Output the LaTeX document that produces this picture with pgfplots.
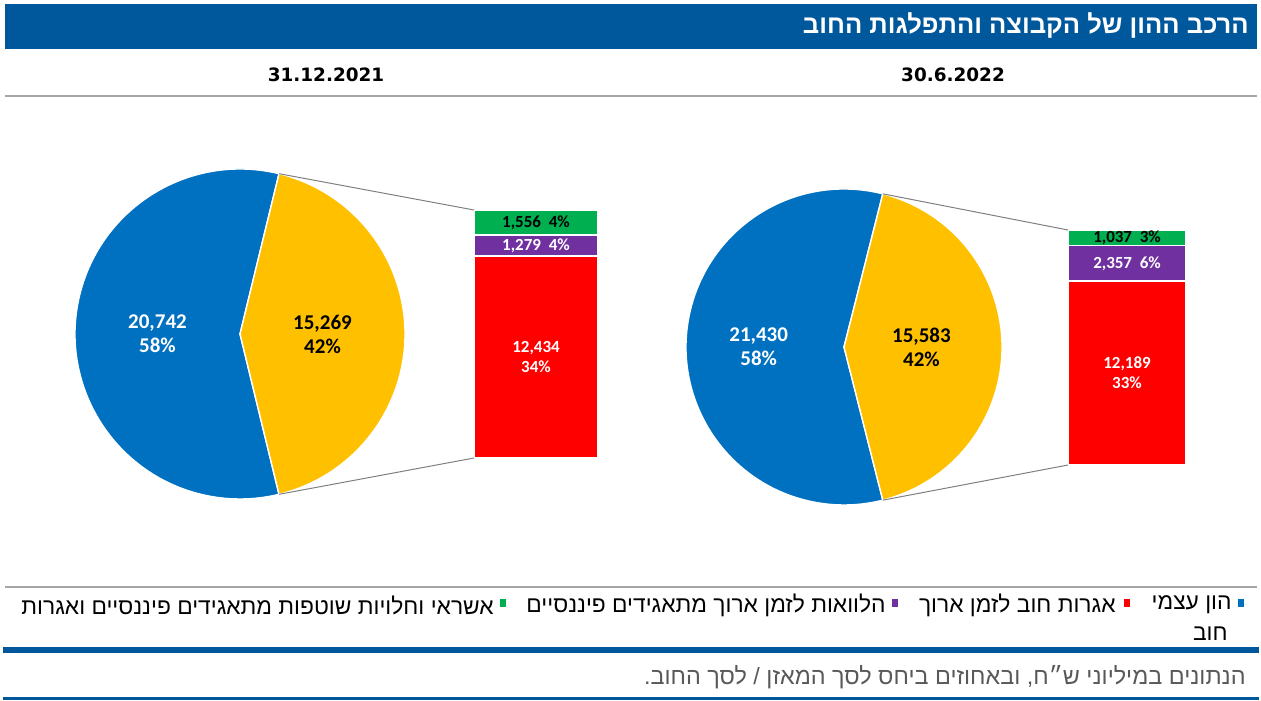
\documentclass[border=0pt]{standalone}
\usepackage{pgfplots}
\pgfplotsset{compat=1.18}
\usepackage{fontspec}
\setmainfont{Liberation Sans}
\newfontfamily\hebfont[Script=Hebrew]{Liberation Sans}
\newfontfamily\calfont{Carlito}
\newfontfamily\dvfont{DejaVu Sans}
\TeXXeTstate=1

\definecolor{titleblue}{RGB}{0,88,156}
\definecolor{cblue}{RGB}{0,112,192}
\definecolor{cyellow}{RGB}{255,192,0}
\definecolor{cred}{RGB}{255,0,0}
\definecolor{cpurple}{RGB}{112,48,160}
\definecolor{cgreen}{RGB}{0,176,80}
\definecolor{notegray}{RGB}{89,89,89}

% pie angles (half-angle of the debt slice) from the values
\pgfmathsetmacro\aL{180*(15.269/(20.742+15.269))}
\pgfmathsetmacro\aR{180*(15.583/(21.430+15.583))}

\tikzset{
  leg/.style={anchor=east,inner sep=0pt,font=\hebfont\fontsize{11.4}{13}\selectfont},
  pielab/.style={align=center,font=\calfont\bfseries\fontsize{10.5}{12}\selectfont},
  barlab/.style={align=center,font=\calfont\bfseries\fontsize{8.5}{10}\selectfont}}

\begin{document}
\begin{tikzpicture}[x=0.5pt,y=-0.5pt]
\path[use as bounding box] (0,0) rectangle (1261,700);
\coordinate (pie1) at (75,499);
\coordinate (bar1) at (474,458);
\coordinate (pie2) at (686,505);
\coordinate (bar2) at (1068,465);

% header
\fill[titleblue] (5,4) rectangle (1257,49);
\node[anchor=east,text=white,inner sep=0pt,font=\hebfont\bfseries\fontsize{12.8}{14}\selectfont]
  at (1249,26) {\beginR הרכב ההון של הקבוצה והתפלגות החוב\endR};
\node[font=\dvfont\bfseries\fontsize{9.2}{11}\selectfont] at (326,75) {31.12.2021};
\node[font=\dvfont\bfseries\fontsize{9.2}{11}\selectfont] at (953,75) {30.6.2022};
\draw[black!35,line width=1pt] (5,96) -- (1257,96);

% ---- 31.12.2021 ----
\begin{axis}[at={(pie1)},anchor=south west,scale only axis,width=165pt,height=165pt,
  xmin=-1,xmax=1,ymin=-1,ymax=1,hide axis,clip=false]
  \addplot[draw=none] coordinates {(0,0)};
  \fill[cblue,draw=white,line width=0.7pt] (axis cs:0,0) -- ++(\aL:82.5pt)
    arc[start angle=\aL,end angle={360-\aL},radius=82.5pt] -- cycle;
  \fill[cyellow,draw=white,line width=0.7pt] (axis cs:0,0) -- ++(-\aL:82.5pt)
    arc[start angle=-\aL,end angle=\aL,radius=82.5pt] -- cycle;
  \path (axis cs:0,0) ++(\aL:82.5pt) coordinate (p1t);
  \path (axis cs:0,0) ++(-\aL:82.5pt) coordinate (p1b);
  \node[pielab,text=white] at (axis cs:-0.50,0) {20,742\\58\%};
  \node[pielab] at (axis cs:0.50,0) {15,269\\42\%};
\end{axis}

\begin{axis}[at={(bar1)},anchor=south west,scale only axis,width=62pt,height=124pt,
  xmin=0,xmax=1,ymin=0,ymax=15269,hide axis,clip=false,ybar stacked,bar width=62pt]
  \addplot[fill=cred,draw=white,line width=0.8pt] coordinates {(0.5,12434)};
  \addplot[fill=cpurple,draw=white,line width=0.8pt] coordinates {(0.5,1279)};
  \addplot[fill=cgreen,draw=white,line width=0.8pt] coordinates {(0.5,1556)};
  \coordinate (l1r) at (axis cs:0.5,6217);
  \coordinate (l1p) at (axis cs:0.5,13073);
  \coordinate (l1g) at (axis cs:0.5,14491);
  \coordinate (b1t) at (axis cs:0,15269);
  \coordinate (b1b) at (axis cs:0,0);
\end{axis}
\node[barlab,text=white] at (l1r) {12,434\\34\%};
\node[barlab,text=white] at (l1p) {1,279\ \ 4\%};
\node[barlab] at (l1g) {1,556\ \ 4\%};
\draw[black!50,line width=0.5pt] (p1t) -- (b1t) (p1b) -- (b1b);

% ---- 30.6.2022 ----
\begin{axis}[at={(pie2)},anchor=south west,scale only axis,width=158pt,height=158pt,
  xmin=-1,xmax=1,ymin=-1,ymax=1,hide axis,clip=false]
  \addplot[draw=none] coordinates {(0,0)};
  \fill[cblue,draw=white,line width=0.7pt] (axis cs:0,0) -- ++(\aR:79pt)
    arc[start angle=\aR,end angle={360-\aR},radius=79pt] -- cycle;
  \fill[cyellow,draw=white,line width=0.7pt] (axis cs:0,0) -- ++(-\aR:79pt)
    arc[start angle=-\aR,end angle=\aR,radius=79pt] -- cycle;
  \path (axis cs:0,0) ++(\aR:79pt) coordinate (p2t);
  \path (axis cs:0,0) ++(-\aR:79pt) coordinate (p2b);
  \node[pielab,text=white] at (axis cs:-0.54,0) {21,430\\58\%};
  \node[pielab] at (axis cs:0.49,0) {15,583\\42\%};
\end{axis}

\begin{axis}[at={(bar2)},anchor=south west,scale only axis,width=59pt,height=117.5pt,
  xmin=0,xmax=1,ymin=0,ymax=15583,hide axis,clip=false,ybar stacked,bar width=59pt]
  \addplot[fill=cred,draw=white,line width=0.8pt] coordinates {(0.5,12189)};
  \addplot[fill=cpurple,draw=white,line width=0.8pt] coordinates {(0.5,2357)};
  \addplot[fill=cgreen,draw=white,line width=0.8pt] coordinates {(0.5,1037)};
  \coordinate (l2r) at (axis cs:0.5,6095);
  \coordinate (l2p) at (axis cs:0.5,13368);
  \coordinate (l2g) at (axis cs:0.5,15065);
  \coordinate (b2t) at (axis cs:0,15583);
  \coordinate (b2b) at (axis cs:0,0);
\end{axis}
\node[barlab,text=white] at (l2r) {12,189\\33\%};
\node[barlab,text=white] at (l2p) {2,357\ \ 6\%};
\node[barlab] at (l2g) {1,037\ \ 3\%};
\draw[black!50,line width=0.5pt] (p2t) -- (b2t) (p2b) -- (b2b);

% legend
\draw[black!35,line width=1pt] (5,587) -- (1257,587);
\fill[cblue]   (1238,599) rectangle (1244,607);
\fill[cred]    (1124,599) rectangle (1130,607);
\fill[cpurple] (892,599) rectangle (898,607);
\fill[cgreen]  (500,599) rectangle (506,607);
\node[leg] at (1232,605) {\beginR הון עצמי\endR};
\node[leg] at (1116,605) {\beginR אגרות חוב לזמן ארוך\endR};
\node[leg] at (886,605) {\beginR הלוואות לזמן ארוך מתאגידים פיננסיים\endR};
\node[leg] at (494,605) {\beginR אשראי וחלויות שוטפות מתאגידים פיננסיים ואגרות\endR};
\node[leg] at (1228,634) {\beginR חוב\endR};
\fill[titleblue] (3,647) rectangle (1259,653);

% note
\node[anchor=east,inner sep=0pt,text=notegray,font=\hebfont\fontsize{11.7}{13}\selectfont] at (1246,677)
  {\beginR הנתונים במיליוני ש״ח, ובאחוזים ביחס לסך המאזן / לסך החוב.\endR};
\fill[titleblue] (3,697) rectangle (1259,700);
\end{tikzpicture}
\end{document}
